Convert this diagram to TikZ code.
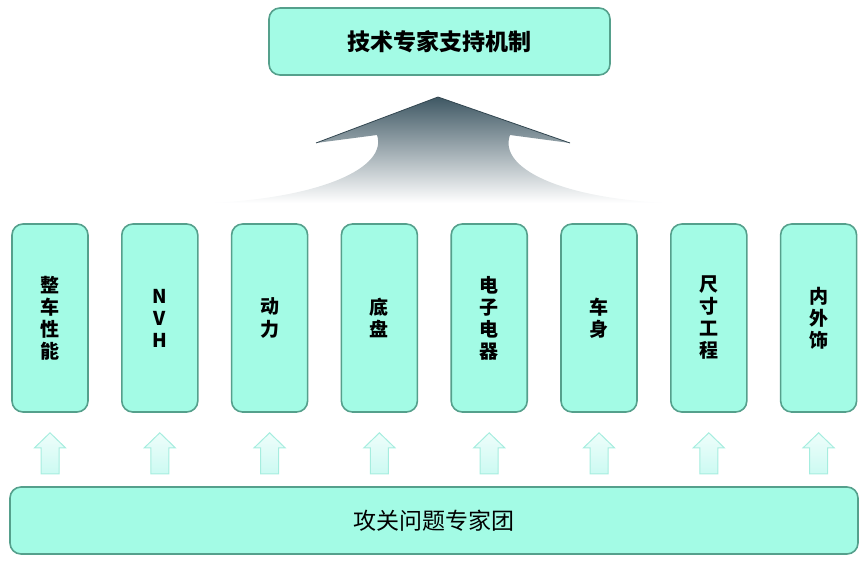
\documentclass[tikz,border=0pt]{standalone}
\usepackage{fontspec}
\setmainfont{Noto Sans CJK SC}
\usetikzlibrary{positioning}
\definecolor{boxfill}{HTML}{A3FBE5}
\definecolor{boxline}{HTML}{55A08C}
\definecolor{arrowdark}{HTML}{3F5864}
\definecolor{smallline}{HTML}{A6EDDF}
\definecolor{smallfill}{HTML}{CCFAF2}

\begin{document}
\begin{tikzpicture}[x=1pt, y=-1pt,
  box/.style = {draw=boxline, line width=1.6pt, fill=boxfill, rounded corners=11pt},
  col/.style = {box, minimum width=76pt, minimum height=188pt, align=center,
    font=\fontsize{19}{22}\selectfont\bfseries},
  upar/.style = {draw=smallline, line width=1pt, top color=white, bottom color=smallfill}]
\useasboundingbox (0,0) rectangle (866,560);
\node[box, minimum width=341pt, minimum height=67pt, font=\fontsize{23}{26}\selectfont\bfseries] (top) at (439.5,41.5) {技术专家支持机制};
\node[box, minimum width=848pt, minimum height=67pt, font=\fontsize{23}{26}\selectfont] (team) at (434,520.5) {攻关问题专家团};
% columns
\node[col] (c1) at (50,318) {整\\车\\性\\能};
\node[col, right=32.2pt of c1] (c2) {N\\V\\H};
\node[col, right=32.2pt of c2] (c3) {动\\力};
\node[col, right=32.2pt of c3] (c4) {底\\盘};
\node[col, right=32.2pt of c4] (c5) {电\\子\\电\\器};
\node[col, right=32.2pt of c5] (c6) {车\\身};
\node[col, right=32.2pt of c6] (c7) {尺\\寸\\工\\程};
\node[col, right=32.2pt of c7] (c8) {内\\外\\饰};
% small arrows
\foreach \i in {1,...,8}
  \draw[upar] (c\i.south) ++(0,20) -- ++(15.5,15) -- ++(-6.5,0) -- ++(0,26)
    -- ++(-18,0) -- ++(0,-26) -- ++(-6.5,0) -- cycle;
% big arrow
\shade[top color=arrowdark, middle color=arrowdark!75, bottom color=white]
  (438,97) -- (316,143) -- (377,135)
  .. controls (388,168) and (320,198) .. (210,203) -- (667,203)
  .. controls (560,198) and (498,168) .. (510,135) -- (570,143) -- cycle;
\draw[arrowdark!80!black, line width=0.8pt] (316,143) -- (438,97) -- (570,143);
\end{tikzpicture}
\end{document}
